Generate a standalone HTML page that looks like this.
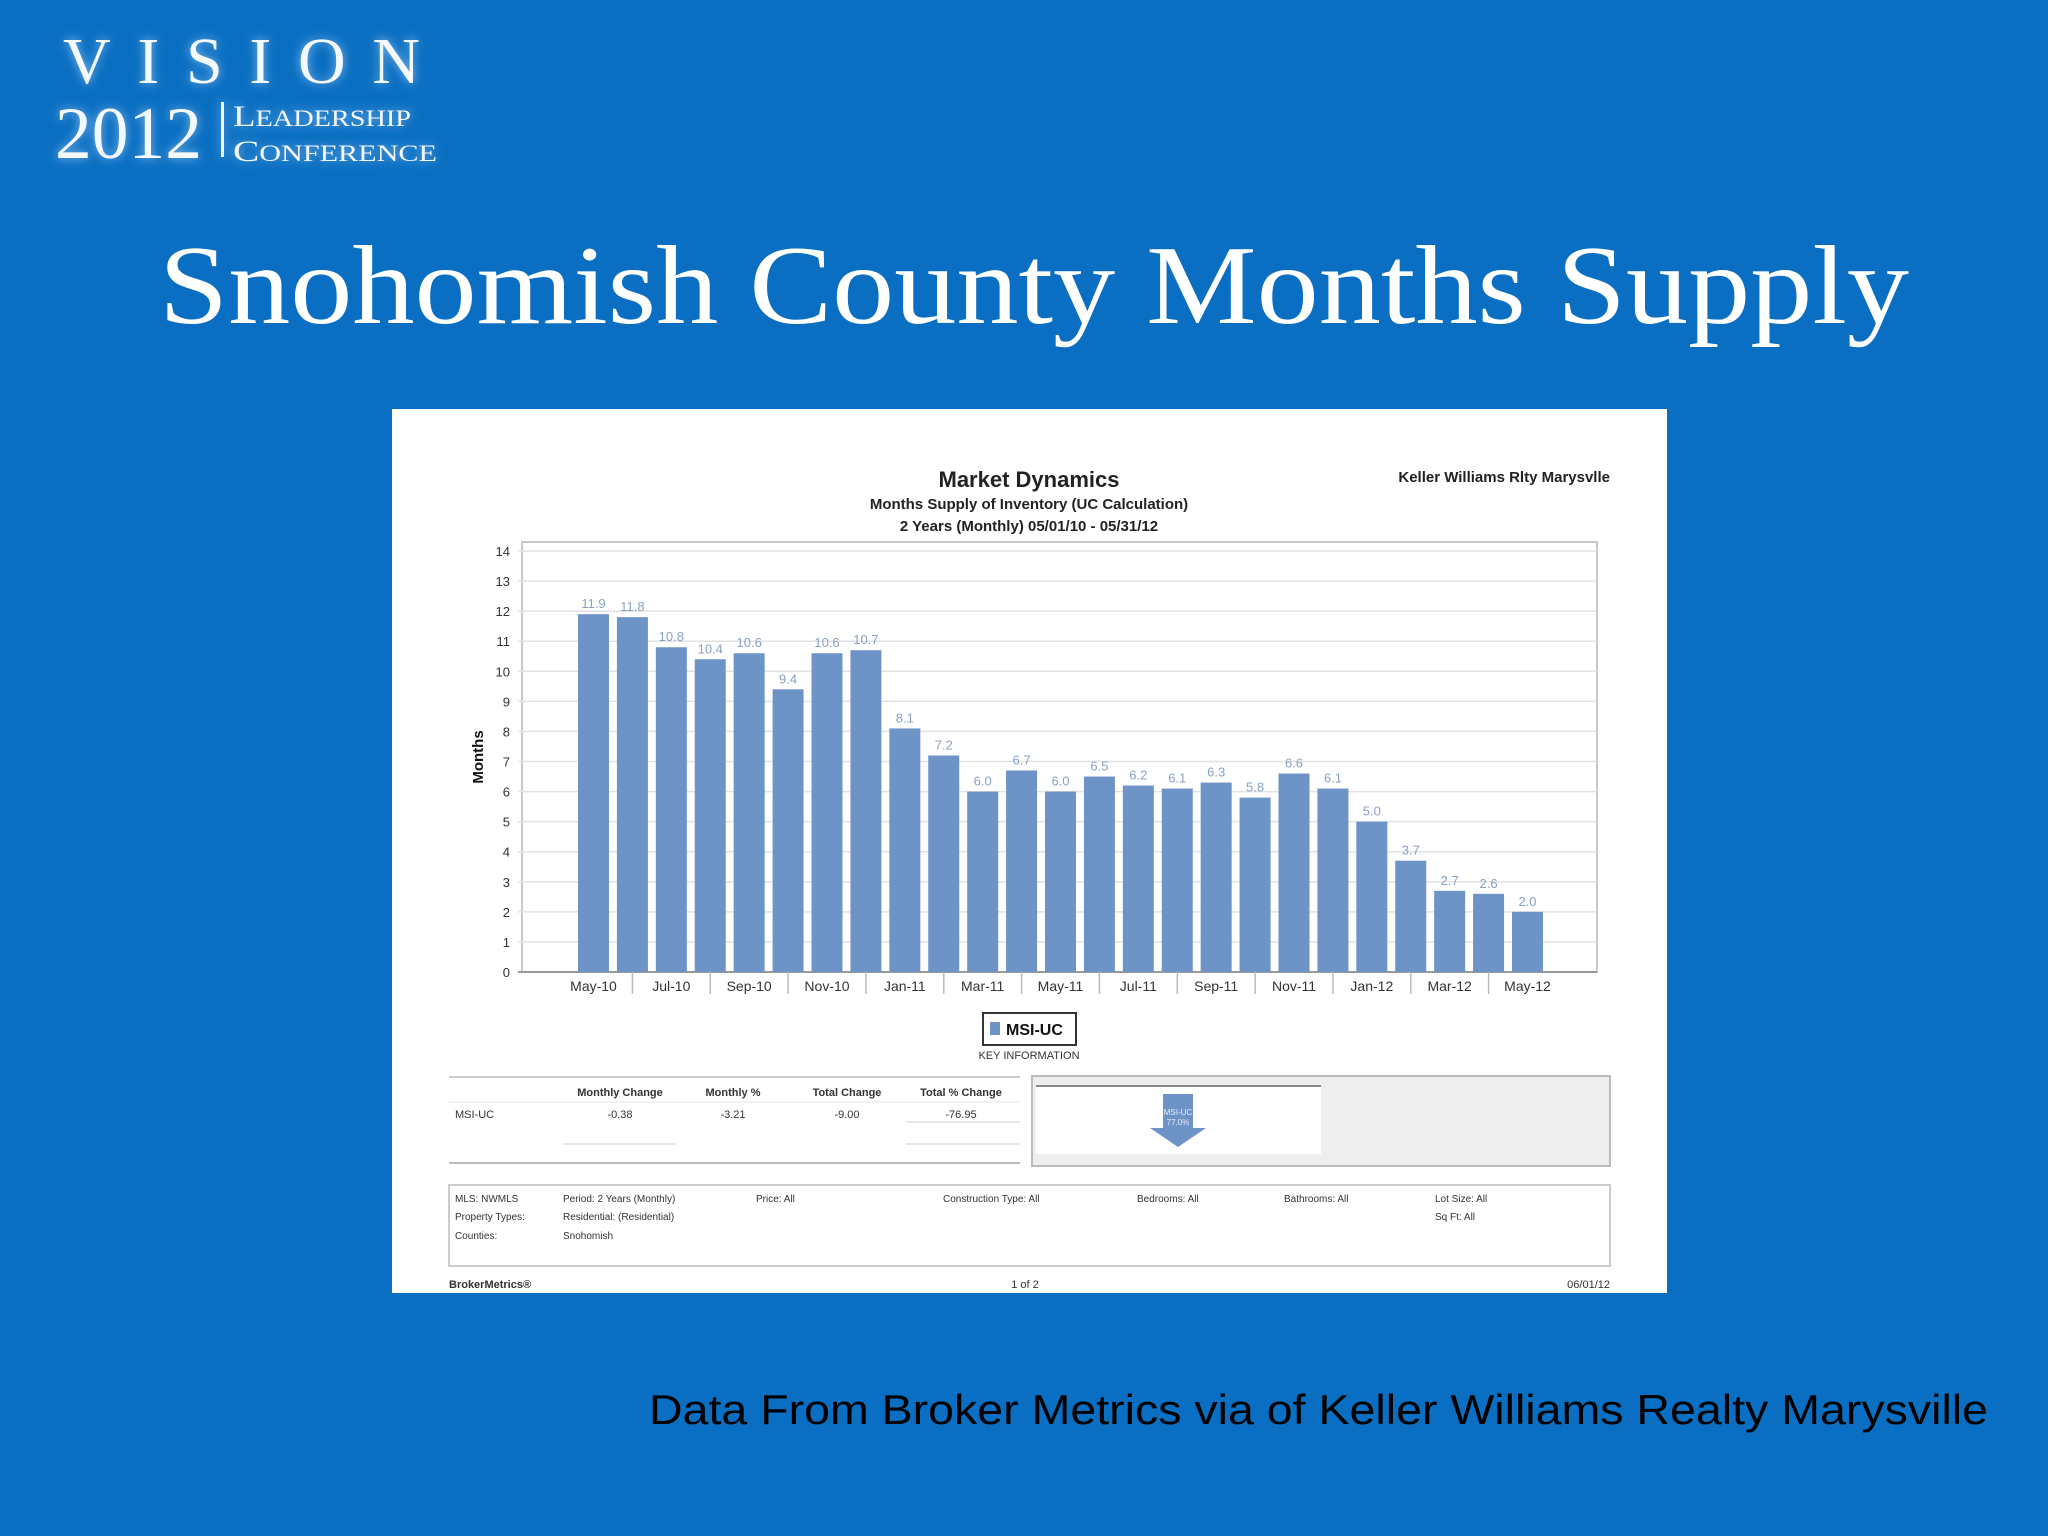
<!DOCTYPE html>
<html><head><meta charset="utf-8"><style>
html,body{margin:0;padding:0;background:#0a6fc2;}
svg{display:block;}
</style></head><body>
<svg id="slide" width="2048" height="1536" viewBox="0 0 2048 1536" xmlns="http://www.w3.org/2000/svg">
<defs>
<filter id="glow" x="-20%" y="-40%" width="140%" height="180%"><feGaussianBlur stdDeviation="5" result="b"/><feColorMatrix in="b" type="matrix" values="0 0 0 0 0.55  0 0 0 0 0.75  0 0 0 0 1  0 0 0 0.7 0" result="c"/><feMerge><feMergeNode in="c"/><feMergeNode in="SourceGraphic"/></feMerge></filter>
</defs>
<rect x="0" y="0" width="2048" height="1536" fill="#0a6fc2"/>
<g fill="#f4f8ff" font-family="Liberation Serif, serif" filter="url(#glow)">
<text x="63" y="83" font-size="66" textLength="357" lengthAdjust="spacing">VISION</text>
<text x="55" y="158" font-size="74" textLength="147" lengthAdjust="spacingAndGlyphs">2012</text>
<rect x="221" y="102" width="3" height="55"/>
<text x="233" y="126" font-size="30" textLength="178" lengthAdjust="spacingAndGlyphs">L<tspan font-size="23">EADERSHIP</tspan></text>
<text x="233" y="161" font-size="30" textLength="204" lengthAdjust="spacingAndGlyphs">C<tspan font-size="23">ONFERENCE</tspan></text>
</g>
<text x="1034" y="323" text-anchor="middle" font-family="Liberation Serif, serif" font-size="112" fill="#ffffff" textLength="1750" lengthAdjust="spacingAndGlyphs">Snohomish County Months Supply</text>

<rect x="392" y="409" width="1275" height="884" fill="#ffffff"/>
<g font-family="Liberation Sans, sans-serif" fill="#222">
<text x="1029" y="487" text-anchor="middle" font-size="22" font-weight="bold">Market Dynamics</text>
<text x="1029" y="509" text-anchor="middle" font-size="15" font-weight="bold">Months Supply of Inventory (UC Calculation)</text>
<text x="1029" y="531" text-anchor="middle" font-size="15" font-weight="bold">2 Years (Monthly) 05/01/10 - 05/31/12</text>
<text x="1610" y="482" text-anchor="end" font-size="15" font-weight="bold">Keller Williams Rlty Marysvlle</text>
</g>
<g id="chart"></g>

<g font-family="Liberation Sans, sans-serif">
<rect x="983" y="1013" width="93" height="32" fill="#fff" stroke="#333" stroke-width="2"/>
<rect x="990" y="1022" width="10" height="13" fill="#6e93c7"/>
<text x="1006" y="1035" font-size="16" font-weight="bold" fill="#111">MSI-UC</text>
<text x="1029" y="1059" text-anchor="middle" font-size="11" fill="#333">KEY INFORMATION</text>
</g>

<g font-family="Liberation Sans, sans-serif" font-size="11" fill="#333">
<line x1="449" y1="1077" x2="1020" y2="1077" stroke="#ccc" stroke-width="2"/>
<line x1="449" y1="1102" x2="1020" y2="1102" stroke="#e4e4e4"/>
<line x1="449" y1="1163" x2="1020" y2="1163" stroke="#bbb" stroke-width="2"/>
<line x1="563" y1="1144" x2="676" y2="1144" stroke="#ccc"/>
<line x1="906" y1="1144" x2="1020" y2="1144" stroke="#ccc"/>
<line x1="906" y1="1122" x2="1020" y2="1122" stroke="#ccc"/>
<text x="620" y="1096" text-anchor="middle" font-weight="bold">Monthly Change</text>
<text x="733" y="1096" text-anchor="middle" font-weight="bold">Monthly %</text>
<text x="847" y="1096" text-anchor="middle" font-weight="bold">Total Change</text>
<text x="961" y="1096" text-anchor="middle" font-weight="bold">Total % Change</text>
<text x="455" y="1118">MSI-UC</text>
<text x="620" y="1118" text-anchor="middle">-0.38</text>
<text x="733" y="1118" text-anchor="middle">-3.21</text>
<text x="847" y="1118" text-anchor="middle">-9.00</text>
<text x="961" y="1118" text-anchor="middle">-76.95</text>
</g>
<g>
<rect x="1032" y="1076" width="578" height="90" fill="#eeeeee" stroke="#bbb" stroke-width="2"/>
<rect x="1036" y="1086" width="285" height="68" fill="#ffffff"/>
<line x1="1036" y1="1086" x2="1321" y2="1086" stroke="#888" stroke-width="2"/>
<path d="M1163 1094 H1193 V1128 H1206 L1178 1147 L1150 1128 H1163 Z" fill="#6e93c7"/>
<text x="1178" y="1115" text-anchor="middle" font-family="Liberation Sans, sans-serif" font-size="8" fill="#e8eef8">MSI-UC</text>
<text x="1178" y="1125" text-anchor="middle" font-family="Liberation Sans, sans-serif" font-size="8" fill="#e8eef8">77.0%</text>
</g>
<g font-family="Liberation Sans, sans-serif" font-size="10" fill="#333">
<rect x="449" y="1185" width="1161" height="81" fill="#fff" stroke="#ccc" stroke-width="2"/>
<text x="455" y="1202">MLS: NWMLS</text><text x="563" y="1202">Period: 2 Years (Monthly)</text>
<text x="756" y="1202">Price: All</text><text x="943" y="1202">Construction Type: All</text>
<text x="1137" y="1202">Bedrooms: All</text><text x="1284" y="1202">Bathrooms: All</text>
<text x="1435" y="1202">Lot Size: All</text>
<text x="455" y="1220">Property Types:</text><text x="563" y="1220">Residential: (Residential)</text>
<text x="1435" y="1220">Sq Ft: All</text>
<text x="455" y="1239">Counties:</text><text x="563" y="1239">Snohomish</text>
</g>
<g font-family="Liberation Sans, sans-serif" font-size="11" fill="#333">
<text x="449" y="1288" font-weight="bold">BrokerMetrics®</text>
<text x="1025" y="1288" text-anchor="middle">1 of 2</text>
<text x="1610" y="1288" text-anchor="end">06/01/12</text>
</g>
<text x="649" y="1424" font-family="Liberation Sans, sans-serif" font-size="42" fill="#000" textLength="1339" lengthAdjust="spacingAndGlyphs">Data From Broker Metrics via of Keller Williams Realty Marysville</text>
</svg>
<script>
const months = ["May-10","Jun-10","Jul-10","Aug-10","Sep-10","Oct-10","Nov-10","Dec-10","Jan-11","Feb-11","Mar-11","Apr-11","May-11","Jun-11","Jul-11","Aug-11","Sep-11","Oct-11","Nov-11","Dec-11","Jan-12","Feb-12","Mar-12","Apr-12","May-12"];
const msiValues = [11.9,11.8,10.8,10.4,10.6,9.4,10.6,10.7,8.1,7.2,6.0,6.7,6.0,6.5,6.2,6.1,6.3,5.8,6.6,6.1,5.0,3.7,2.7,2.6,2.0];
const yTicks = [0,1,2,3,4,5,6,7,8,9,10,11,12,13,14];

const NS = "http://www.w3.org/2000/svg";
const g = document.getElementById('chart');
const plot = {left:522, right:1597, top:542, bottom:972};
const yMax = 14, y14 = 551;
function yScale(v){ return plot.bottom - v/yMax*(plot.bottom - y14); }
function xCenter(i){ return 593.5 + i*(1527.5-593.5)/(months.length-1); }
function mk(tag, attrs){ const e=document.createElementNS(NS,tag); for(const k in attrs) e.setAttribute(k,attrs[k]); g.appendChild(e); return e; }

const frame = mk('rect',{x:plot.left,y:plot.top,width:plot.right-plot.left,height:plot.bottom-plot.top,fill:'#fff',stroke:'#c8c8c8','stroke-width':2});


yTicks.forEach(t=>{
  const y=yScale(t);
  const ln=mk('line',{x1:plot.left-4,x2:plot.right,y1:y,y2:y,stroke:t===0?'#999':'#e2e2e2','stroke-width':t===0?2:1.5});
  
  
  const tx=mk('text',{x:plot.left-12,y:y+5,'text-anchor':'end','font-family':'Liberation Sans, sans-serif','font-size':13,fill:'#333'});
  tx.textContent=t;
  
  
});
const yt=mk('text',{x:0,y:0,transform:'translate(483,757) rotate(-90)','text-anchor':'middle','font-family':'Liberation Sans, sans-serif','font-size':15,'font-weight':'bold',fill:'#111'});
yt.textContent='Months';



const bw=31;
msiValues.forEach((v,i)=>{
  const cx=xCenter(i), y=yScale(v);
  const r=mk('rect',{x:cx-bw/2,y:y,width:bw,height:plot.bottom-y,fill:'#6e93c7'});
  
  
  const t=mk('text',{x:cx,y:y-6,'text-anchor':'middle','font-family':'Liberation Sans, sans-serif','font-size':13,fill:'#8aa0c4'});
  t.textContent=v.toFixed(1);
  
  
});
months.forEach((m,i)=>{
  const cx=xCenter(i);
  if(i%2===0){
    const t=mk('text',{x:cx,y:991,'text-anchor':'middle','font-family':'Liberation Sans, sans-serif','font-size':14,fill:'#333'});
    t.textContent=m;
    
    
    if(i>0){
      const s=mk('line',{x1:cx-38.9,x2:cx-38.9,y1:plot.bottom,y2:plot.bottom+22,stroke:'#bbb','stroke-width':1.5});
      
      
    }
  }
});
</script>
</body></html>
